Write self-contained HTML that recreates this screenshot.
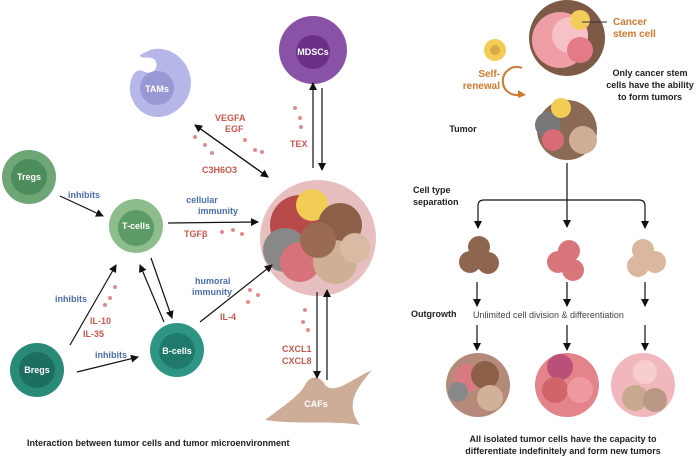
<!DOCTYPE html>
<html><head><meta charset="utf-8"><style>
html,body{margin:0;padding:0;background:#fff}
svg{display:block}
text{font-family:"Liberation Sans",sans-serif;font-weight:bold}
.b{fill:#4a6fae;font-size:9px}
.r{fill:#c9584c;font-size:9px}
.k{fill:#222;font-size:9px}
.w{fill:#fff;font-size:9px;text-anchor:middle}
.o{fill:#d2782e;font-size:10px}
</style></head><body>
<svg width="700" height="457" viewBox="0 0 700 457" xmlns="http://www.w3.org/2000/svg">
<defs>
<marker id="a" markerWidth="8" markerHeight="8" refX="7" refY="4" orient="auto" markerUnits="userSpaceOnUse"><path d="M0,0 L8,4 L0,8 z" fill="#111"/></marker>
</defs>
<!-- MDSCs -->
<circle cx="313" cy="50" r="34" fill="#8a52a6"/>
<circle cx="313" cy="52" r="17" fill="#6b2f88"/>
<text x="313" y="55" class="w">MDSCs</text>
<!-- TAMs -->
<path d="M150,50 C165,45 185,55 190,75 C195,95 180,115 160,117 C140,118 128,100 130,85 C132,72 138,68 145,72 C152,75 160,68 155,60 C150,55 140,60 140,55 Z" fill="#b6b6e8"/>
<circle cx="157" cy="88" r="17" fill="#9898d4"/>
<text x="157" y="92" class="w">TAMs</text>
<!-- lymphocytes -->
<circle cx="29" cy="177" r="27" fill="#6ea676"/><circle cx="29" cy="177" r="18" fill="#4d8d5b"/><text x="29" y="180" class="w">Tregs</text>
<circle cx="136" cy="226" r="27" fill="#8dbd8d"/><circle cx="136" cy="228" r="18" fill="#5c9a66"/><text x="136" y="229" class="w">T-cells</text>
<circle cx="177" cy="350" r="27" fill="#2e9585"/><circle cx="177" cy="351" r="18" fill="#1f7a6c"/><text x="177" y="354" class="w">B-cells</text>
<circle cx="37" cy="370" r="27" fill="#2a8a78"/><circle cx="37" cy="370" r="18" fill="#1c6e60"/><text x="37" y="373" class="w">Bregs</text>
<!-- big tumor -->
<circle cx="318" cy="238" r="58" fill="#e8bfc0"/>
<circle cx="300" cy="225" r="30" fill="#b84a4a"/>
<circle cx="285" cy="250" r="22" fill="#888"/>
<circle cx="312" cy="205" r="16" fill="#f2cc55"/>
<circle cx="340" cy="225" r="22" fill="#8b6047"/>
<circle cx="300" cy="262" r="20" fill="#d7727a"/>
<circle cx="335" cy="262" r="22" fill="#cfb096"/>
<circle cx="318" cy="240" r="18" fill="#9a6a52"/>
<circle cx="355" cy="248" r="15" fill="#d8bba2"/>
<!-- CAFs -->
<path d="M265,420 C285,405 300,395 305,385 C310,375 320,375 325,385 C335,395 350,380 372,370 C355,390 345,405 360,425 C330,420 300,425 265,420 Z" fill="#cdac98"/>
<text x="316" y="407" class="w">CAFs</text>
<!-- arrows left -->
<g stroke="#111" stroke-width="1.2" fill="none">
<line x1="60" y1="196" x2="103" y2="216" marker-end="url(#a)"/>
<line x1="168" y1="223" x2="258" y2="222" marker-end="url(#a)"/>
<line x1="70" y1="345" x2="116" y2="265" marker-end="url(#a)"/>
<line x1="77" y1="372" x2="138" y2="357" marker-end="url(#a)"/>
<line x1="164" y1="322" x2="140" y2="265" marker-end="url(#a)"/>
<line x1="151" y1="258" x2="172" y2="318" marker-end="url(#a)"/>
<line x1="200" y1="322" x2="272" y2="265" marker-end="url(#a)"/>
<line x1="195" y1="125" x2="268" y2="177" marker-end="url(#a)"/>
<line x1="268" y1="177" x2="195" y2="125" marker-end="url(#a)"/>
<line x1="313" y1="168" x2="313" y2="83" marker-end="url(#a)"/>
<line x1="322" y1="88" x2="322" y2="170" marker-end="url(#a)"/>
<line x1="317" y1="292" x2="317" y2="378" marker-end="url(#a)"/>
<line x1="327" y1="380" x2="327" y2="290" marker-end="url(#a)"/>
</g>
<g fill="#e58a8a">
<circle cx="195" cy="137" r="2"/><circle cx="205" cy="145" r="2"/><circle cx="212" cy="153" r="2"/><circle cx="245" cy="140" r="2"/><circle cx="255" cy="150" r="2"/><circle cx="262" cy="152" r="2"/>
<circle cx="295" cy="108" r="2"/><circle cx="300" cy="118" r="2"/><circle cx="301" cy="127" r="2"/>
<circle cx="222" cy="232" r="2"/><circle cx="233" cy="230" r="2"/><circle cx="242" cy="234" r="2"/>
<circle cx="115" cy="287" r="2"/><circle cx="110" cy="298" r="2"/><circle cx="105" cy="305" r="2"/>
<circle cx="250" cy="290" r="2"/><circle cx="258" cy="295" r="2"/><circle cx="248" cy="302" r="2"/>
<circle cx="305" cy="310" r="2"/><circle cx="303" cy="322" r="2"/><circle cx="308" cy="330" r="2"/>
</g>
<text x="68" y="198" class="b">inhibits</text>
<text x="202" y="203" class="b" text-anchor="middle">cellular</text>
<text x="218" y="214" class="b" text-anchor="middle">immunity</text>
<text x="184" y="237" class="r">TGFβ</text>
<text x="55" y="302" class="b">inhibits</text>
<text x="90" y="324" class="r">IL-10</text>
<text x="83" y="337" class="r">IL-35</text>
<text x="95" y="358" class="b">inhibits</text>
<text x="195" y="284" class="b">humoral</text>
<text x="192" y="295" class="b">immunity</text>
<text x="220" y="320" class="r">IL-4</text>
<text x="215" y="121" class="r">VEGFA</text>
<text x="225" y="132" class="r">EGF</text>
<text x="202" y="173" class="r">C3H6O3</text>
<text x="290" y="147" class="r">TEX</text>
<text x="282" y="352" class="r">CXCL1</text>
<text x="282" y="364" class="r">CXCL8</text>
<text x="27" y="446" class="k">Interaction between tumor cells and tumor microenvironment</text>
<!-- right side -->
<circle cx="567" cy="38" r="38" fill="#7d5a45"/>
<circle cx="560" cy="40" r="28" fill="#ef9ea6"/>
<circle cx="570" cy="35" r="18" fill="#f6c2c7"/>
<circle cx="580" cy="50" r="13" fill="#e37a87"/>
<circle cx="580" cy="20" r="10" fill="#f3cc5c"/>
<line x1="582" y1="22" x2="607" y2="22" stroke="#333" stroke-width="1"/>
<text x="613" y="25" class="o">Cancer</text>
<text x="613" y="37" class="o">stem cell</text>
<circle cx="495" cy="50" r="11" fill="#f2cc55"/><circle cx="495" cy="50" r="5" fill="#d8a842"/>
<text x="500" y="77" class="o" text-anchor="end">Self-</text>
<text x="500" y="89" class="o" text-anchor="end">renewal</text>
<path d="M522,68 A14,14 0 1 0 522,94" fill="none" stroke="#d2782e" stroke-width="2"/>
<path d="M518,90 L526,95 L518,98 z" fill="#d2782e"/>
<text x="650" y="76" class="k" text-anchor="middle">Only cancer stem</text>
<text x="650" y="88" class="k" text-anchor="middle">cells have the ability</text>
<text x="650" y="100" class="k" text-anchor="middle">to form tumors</text>
<circle cx="567" cy="130" r="30" fill="#8b6a55"/>
<circle cx="548" cy="125" r="13" fill="#777"/>
<circle cx="561" cy="108" r="10" fill="#f2cc55"/>
<circle cx="553" cy="140" r="11" fill="#d76c74"/>
<circle cx="583" cy="140" r="14" fill="#cfae96"/>
<text x="463" y="132" class="k" text-anchor="middle">Tumor</text>
<g stroke="#111" stroke-width="1.2" fill="none">
<line x1="567" y1="163" x2="567" y2="227" marker-end="url(#a)"/>
<path d="M478,227 V206 Q478,200 484,200 H639 Q645,200 645,206 V227" />
<line x1="478" y1="220" x2="478" y2="228" marker-end="url(#a)"/>
<line x1="645" y1="220" x2="645" y2="228" marker-end="url(#a)"/>
<line x1="477" y1="282" x2="477" y2="306" marker-end="url(#a)"/>
<line x1="567" y1="282" x2="567" y2="306" marker-end="url(#a)"/>
<line x1="645" y1="282" x2="645" y2="306" marker-end="url(#a)"/>
<line x1="477" y1="325" x2="477" y2="350" marker-end="url(#a)"/>
<line x1="567" y1="325" x2="567" y2="350" marker-end="url(#a)"/>
<line x1="645" y1="325" x2="645" y2="350" marker-end="url(#a)"/>
</g>
<text x="413" y="193" class="k">Cell type</text>
<text x="413" y="205" class="k">separation</text>
<g fill="#8e6650"><circle cx="479" cy="247" r="11"/><circle cx="470" cy="262" r="11"/><circle cx="488" cy="263" r="11"/></g>
<g fill="#d9767c"><circle cx="569" cy="251" r="11"/><circle cx="558" cy="262" r="11"/><circle cx="573" cy="270" r="11"/></g>
<g fill="#dcb7a0"><circle cx="643" cy="250" r="11"/><circle cx="638" cy="266" r="11"/><circle cx="655" cy="262" r="11"/></g>
<text x="411" y="317" class="k">Outgrowth</text>
<text x="473" y="318" style="font-weight:normal;font-size:9px;fill:#444">Unlimited cell division &amp; differentiation</text>
<circle cx="478" cy="385" r="32" fill="#b58a7a"/><circle cx="468" cy="378" r="14" fill="#d87a80"/><circle cx="485" cy="375" r="14" fill="#8b6047"/><circle cx="490" cy="398" r="13" fill="#d2b19a"/><circle cx="458" cy="392" r="10" fill="#888"/>
<circle cx="567" cy="385" r="32" fill="#e2848a"/><circle cx="560" cy="367" r="13" fill="#b8507a"/><circle cx="555" cy="390" r="13" fill="#d06468"/><circle cx="580" cy="390" r="13" fill="#ef9aa0"/>
<circle cx="643" cy="385" r="32" fill="#f0b8bd"/><circle cx="635" cy="398" r="13" fill="#c9a890"/><circle cx="655" cy="400" r="12" fill="#b89884"/><circle cx="645" cy="372" r="12" fill="#f7cdd0"/>
<text x="563" y="442" class="k" text-anchor="middle">All isolated tumor cells have the capacity to</text>
<text x="563" y="454" class="k" text-anchor="middle">differentiate indefinitely and form new tumors</text>
</svg>
</body></html>
